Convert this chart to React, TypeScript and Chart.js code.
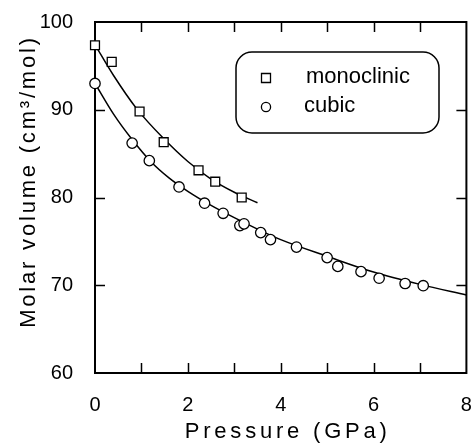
import React, { useEffect, useRef } from "react";
import { Chart, registerables } from "chart.js";

Chart.register(...registerables);

// ---- data ----
const seriesLabels = ["monoclinic", "cubic"];

const monoPressure = [0, 0.36, 0.96, 1.48, 2.23, 2.59, 3.16];
const monoVolume = [97.35, 95.45, 89.8, 86.3, 83.1, 81.8, 80.0];

const cubicPressure = [0, 0.8, 1.17, 1.81, 2.36, 2.76, 3.12, 3.21, 3.57, 3.78, 4.34, 5.0, 5.23, 5.73, 6.12, 6.68, 7.07];
const cubicVolume = [93.0, 86.2, 84.2, 81.2, 79.35, 78.2, 76.8, 77.0, 76.0, 75.2, 74.35, 73.15, 72.15, 71.55, 70.8, 70.2, 69.95];

const monoFitPressure = [0, 0.4, 0.9, 1.5, 2.0, 2.5, 3.0, 3.5];
const monoFitVolume = [97.4, 93.9, 90.1, 86.6, 84.1, 82.1, 80.6, 79.4];

const cubicFitPressure = [0, 0.4, 0.8, 1.2, 1.6, 2.0, 2.5, 3.0, 3.5, 4, 5, 6, 7, 8];
const cubicFitVolume = [93.0, 89.5, 86.6, 84.1, 82.2, 80.7, 79.1, 77.7, 76.4, 75.2, 73.3, 71.5, 70.1, 68.9];

const xRange = [0, 8];
const yRange = [60, 100];
const xStep = 1;
const yStep = 10;
const xLabelEvery = 2;

const xTitle = "Pressure (GPa)";
const yTitle = "Molar volume (cm³/mol)";

const FONT = "'Liberation Sans', Arial, Helvetica, sans-serif";

const toPts = (xs: number[], ys: number[]) => xs.map((x, i) => ({ x, y: ys[i] }));

const framePlugin = {
  id: "frameTicks",
  beforeDatasetsDraw(chart: any) {
    const { ctx, chartArea: a, scales } = chart;
    ctx.save();
    ctx.strokeStyle = "#000";
    ctx.lineWidth = 2;
    ctx.strokeRect(a.left, a.top, a.right - a.left, a.bottom - a.top);
    ctx.lineWidth = 1.5;
    const tl = 10;
    const xs = scales.x;
    const ys = scales.y;
    ctx.beginPath();
    xs.ticks.forEach((t: any) => {
      if (t.value <= xs.min || t.value >= xs.max) return;
      const px = Math.round(xs.getPixelForValue(t.value)) + 0.5;
      ctx.moveTo(px, a.bottom);
      ctx.lineTo(px, a.bottom - tl);
      ctx.moveTo(px, a.top);
      ctx.lineTo(px, a.top + tl);
    });
    ys.ticks.forEach((t: any) => {
      if (t.value <= ys.min || t.value >= ys.max) return;
      const py = Math.round(ys.getPixelForValue(t.value)) + 0.5;
      ctx.moveTo(a.left, py);
      ctx.lineTo(a.left + tl, py);
      ctx.moveTo(a.right, py);
      ctx.lineTo(a.right - tl, py);
    });
    ctx.stroke();
    ctx.restore();
  },
  afterDraw(chart: any) {
    const { ctx, chartArea: a } = chart;
    ctx.save();
    ctx.fillStyle = "#000";
    ctx.font = `22px ${FONT}`;
    ctx.textBaseline = "alphabetic";
    ctx.textAlign = "left";
    // x title
    (ctx as any).letterSpacing = "3.8px";
    const wx = ctx.measureText(xTitle).width;
    const cx = (a.left + a.right) / 2 + 7;
    ctx.fillText(xTitle, cx - wx / 2, 438);
    // y title
    (ctx as any).letterSpacing = "2.8px";
    const wy = ctx.measureText(yTitle).width;
    const cy = (a.top + a.bottom) / 2 - 16;
    ctx.translate(34.5, cy);
    ctx.rotate(-Math.PI / 2);
    ctx.fillText(yTitle, -wy / 2, 0);
    ctx.setTransform(1, 0, 0, 1, 0, 0);
    (ctx as any).letterSpacing = "0px";

    // legend box
    const bx = a.left + 141;
    const by = a.top + 30;
    const bw = 203;
    const bh = 81;
    const r = 16;
    ctx.lineWidth = 1.5;
    ctx.strokeStyle = "#000";
    ctx.beginPath();
    ctx.moveTo(bx + r, by);
    ctx.lineTo(bx + bw - r, by);
    ctx.arcTo(bx + bw, by, bx + bw, by + r, r);
    ctx.lineTo(bx + bw, by + bh - r);
    ctx.arcTo(bx + bw, by + bh, bx + bw - r, by + bh, r);
    ctx.lineTo(bx + r, by + bh);
    ctx.arcTo(bx, by + bh, bx, by + bh - r, r);
    ctx.lineTo(bx, by + r);
    ctx.arcTo(bx, by, bx + r, by, r);
    ctx.closePath();
    ctx.stroke();

    const ds = chart.data.datasets;
    const mx = bx + 30;
    const rows = [by + 26, by + 55];
    ctx.lineWidth = 1.3;
    ctx.fillStyle = "#fff";
    ctx.beginPath();
    ctx.rect(mx - 4.5, rows[0] - 4.5, 9, 9);
    ctx.fill();
    ctx.stroke();
    ctx.beginPath();
    ctx.arc(mx, rows[1], 4.6, 0, Math.PI * 2);
    ctx.fill();
    ctx.stroke();
    ctx.fillStyle = "#000";
    ctx.font = `22px ${FONT}`;
    ctx.textBaseline = "middle";
    ctx.fillText(ds[0].label, bx + 70, rows[0] - 1);
    ctx.fillText(ds[1].label, bx + 68, rows[1] - 1);
    ctx.restore();
  },
};

export default function App() {
  const ref = useRef<HTMLCanvasElement | null>(null);
  useEffect(() => {
    if (!ref.current) return;
    const chart = new Chart(ref.current, {
      type: "scatter",
      data: {
        datasets: [
          {
            label: seriesLabels[0],
            data: toPts(monoPressure, monoVolume),
            pointStyle: "rect",
            pointRadius: 6.3,
            pointBorderWidth: 1.3,
            borderColor: "#000",
            backgroundColor: "#fff",
            showLine: false,
            clip: false,
          },
          {
            label: seriesLabels[1],
            data: toPts(cubicPressure, cubicVolume),
            pointStyle: "circle",
            pointRadius: 5.2,
            pointBorderWidth: 1.3,
            borderColor: "#000",
            backgroundColor: "#fff",
            showLine: false,
            clip: false,
          },
          {
            label: "monoclinic fit",
            data: toPts(monoFitPressure, monoFitVolume),
            showLine: true,
            pointRadius: 0,
            borderColor: "#000",
            borderWidth: 1.5,
            cubicInterpolationMode: "monotone",
          },
          {
            label: "cubic fit",
            data: toPts(cubicFitPressure, cubicFitVolume),
            showLine: true,
            pointRadius: 0,
            borderColor: "#000",
            borderWidth: 1.5,
            cubicInterpolationMode: "monotone",
          },
        ],
      },
      options: {
        responsive: false,
        animation: false,
        layout: { padding: { top: 22, right: 6, left: 0, bottom: 0 } },
        plugins: { legend: { display: false }, tooltip: { enabled: false } },
        scales: {
          x: {
            type: "linear",
            min: xRange[0],
            max: xRange[1],
            grid: { display: false },
            border: { display: false },
            ticks: {
              stepSize: xStep,
              padding: 12,
              color: "#000",
              font: { family: FONT, size: 20 },
              maxRotation: 0,
              autoSkip: false,
              callback: (v: any) => (Number(v) % xLabelEvery === 0 ? String(v) : ""),
            },
            afterFit: (s: any) => {
              s.height = 70;
              s.paddingLeft = 0;
              s.paddingRight = 0;
            },
          },
          y: {
            type: "linear",
            min: yRange[0],
            max: yRange[1],
            grid: { display: false },
            border: { display: false },
            ticks: {
              stepSize: yStep,
              padding: 14,
              color: "#000",
              font: { family: FONT, size: 20 },
            },
            afterFit: (s: any) => {
              s.width = 95;
              s.paddingTop = 0;
              s.paddingBottom = 0;
            },
          },
        },
      },
      plugins: [framePlugin],
    } as any);
    return () => chart.destroy();
  }, []);
  return (
    <div style={{ position: "absolute", left: 0, top: 0, width: 474, height: 443, background: "#fff" }}>
      <canvas ref={ref} width={474} height={443} style={{ display: "block" }} />
    </div>
  );
}
